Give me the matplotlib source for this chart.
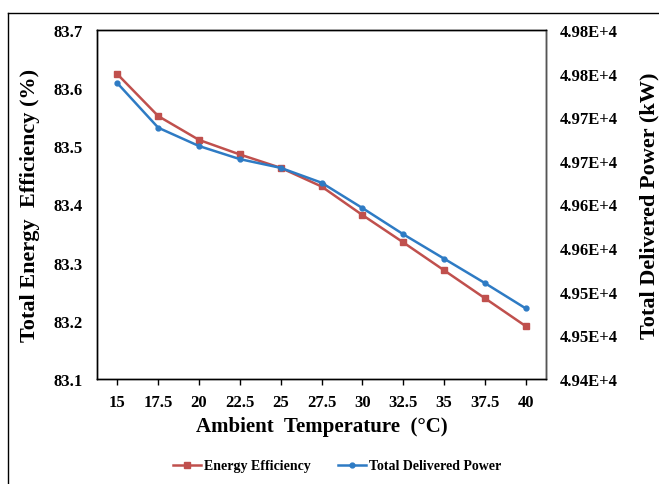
import matplotlib
matplotlib.use('Agg')
import matplotlib.pyplot as plt
from matplotlib.lines import Line2D

temps = ['15', '17.5', '20', '22.5', '25', '27.5', '30', '32.5', '35', '37.5', '40']
efficiency = [83.624, 83.552, 83.511, 83.486, 83.463, 83.431, 83.382, 83.335, 83.287, 83.239, 83.191]
power = [49739, 49688, 49667, 49652, 49642, 49625, 49596, 49566, 49538, 49510, 49481]

left_ticks = [83.1, 83.2, 83.3, 83.4, 83.5, 83.6, 83.7]
right_ticks = [49400, 49450, 49500, 49550, 49600, 49650, 49700, 49750, 49800]
right_labels = ['4.94E+4', '4.95E+4', '4.95E+4', '4.96E+4', '4.96E+4',
                '4.97E+4', '4.97E+4', '4.98E+4', '4.98E+4']

red = '#C0504D'
blue = '#2E7BC4'

plt.rcParams['font.family'] = 'Liberation Serif'
plt.rcParams['font.weight'] = 'bold'

fig = plt.figure(figsize=(6.59, 4.85), dpi=100)
ax = fig.add_axes([97/659, 105/485, 449/659, 349/485])
ax2 = ax.twinx()

x = list(range(len(temps)))
l1, = ax.plot(x, efficiency, color=red, lw=1.8, marker='s', ms=4.5, label='Energy Efficiency')
l2, = ax2.plot(x, power, color=blue, lw=1.8, marker='o', ms=3.5, label='Total Delivered Power')

ax.set_xlim(-0.5, len(temps) - 0.5)
ax.set_xticks(x)
ax.set_xticklabels(temps, fontsize=12, fontweight='bold')
ax.set_ylim(83.1, 83.7)
ax.set_yticks(left_ticks)
ax.set_yticklabels(['%.1f' % v for v in left_ticks], fontsize=12, fontweight='bold')
ax2.set_ylim(49400, 49800)
ax2.set_yticks(right_ticks)
ax2.set_yticklabels(right_labels, fontsize=12, fontweight='bold')

ax.tick_params(axis='x', direction='out', length=4, pad=7, width=1)
ax.tick_params(axis='y', length=0, pad=10)
ax2.tick_params(axis='y', length=0, pad=10)

for a in (ax, ax2):
    for s in a.spines.values():
        s.set_linewidth(1.0)
        s.set_color('black')
ax2.spines['right'].set_color('#555555')

ax.set_xlabel('Ambient  Temperature  (\u00b0C)', fontsize=15, fontweight='bold')
ax.xaxis.set_label_coords(0.5, -0.107)
ax.set_ylabel('Total Energy  Efficiency (%)', fontsize=16, fontweight='bold')
ax.yaxis.set_label_coords(-0.127, 0.5)
ax2.set_ylabel('Total Delivered Power (kW)', fontsize=16, fontweight='bold')
ax2.yaxis.set_label_coords(1.209, 0.5)

fig.legend(handles=[l1, l2], loc='center', bbox_to_anchor=(337/659, 1 - 467/485),
           ncol=2, frameon=False, handlelength=2.0, handletextpad=0.2,
           columnspacing=2.0, prop={'weight': 'bold', 'size': 10})

# outer frame (left and top edges visible)
fig.add_artist(Line2D([8/659, 8/659], [0, 1 - 14/485], transform=fig.transFigure, color='black', lw=1))
fig.add_artist(Line2D([8/659, 1], [1 - 14/485, 1 - 14/485], transform=fig.transFigure, color='black', lw=1))

plt.savefig('out.png', dpi=100)
